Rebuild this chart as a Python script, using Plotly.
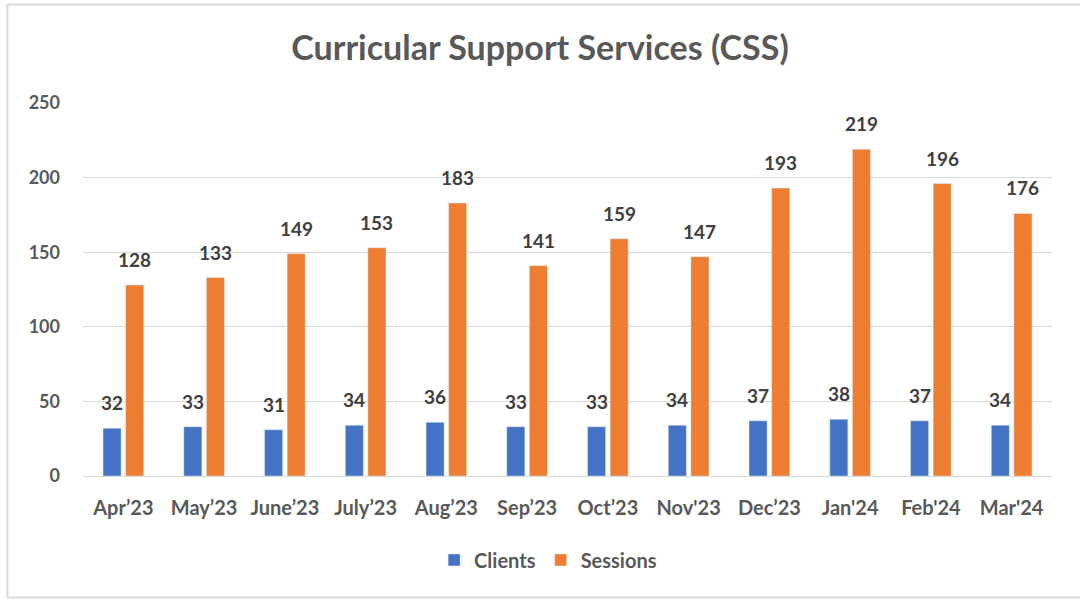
import plotly.graph_objects as go

months = ["Apr’23", "May’23", "June’23", "July’23", "Aug’23", "Sep’23",
          "Oct’23", "Nov'23", "Dec’23", "Jan'24", "Feb'24", "Mar'24"]
clients = [32, 33, 31, 34, 36, 33, 33, 34, 37, 38, 37, 34]
sessions = [128, 133, 149, 153, 183, 141, 159, 147, 193, 219, 196, 176]

font_family = "Lato, 'Open Sans', sans-serif"
label_font = dict(family=font_family, size=19, color="#404040", weight="bold")
tick_font = dict(family=font_family, size=20, color="#595959", weight="bold")

fig = go.Figure()
fig.add_trace(go.Bar(x=months, y=clients, name="Clients",
                     marker=dict(color="#4472C4")))
fig.add_trace(go.Bar(x=months, y=sessions, name="Sessions",
                     marker=dict(color="#ED7D31")))

# data labels centred over each bar of the group
annotations = []
for series, shift in [(clients, -11.25), (sessions, 11.25)]:
    for m, v in zip(months, series):
        annotations.append(dict(x=m, y=v, text=str(v), showarrow=False,
                                xshift=shift, yshift=12, yanchor="bottom",
                                font=label_font))

fig.update_layout(
    width=1080, height=599,
    barmode="group", bargap=0.44, bargroupgap=0.2,
    plot_bgcolor="white", paper_bgcolor="white",
    margin=dict(l=83, r=28, t=103, b=123),
    title=dict(text="Curricular Support Services (CSS)",
               x=0.5, xanchor="center", y=0.92, yanchor="middle",
               font=dict(family=font_family, size=34, color="#595959",
                         weight="bold")),
    xaxis=dict(showline=False, showgrid=False, ticks="",
               ticklabelstandoff=18, tickfont=tick_font),
    yaxis=dict(range=[0, 250], dtick=50, showgrid=True, gridcolor="#d9d9d9",
               gridwidth=1, zeroline=True, zerolinecolor="#d9d9d9",
               zerolinewidth=1, showline=False, ticks="",
               ticklabelstandoff=22,
               tickfont=dict(family=font_family, size=18, color="#595959",
                             weight="bold")),
    legend=dict(orientation="h", x=0.48, xanchor="center", y=-0.225,
                yanchor="middle", itemclick=False, font=tick_font),
    annotations=annotations,
    shapes=[dict(type="rect", xref="paper", yref="paper",
                 x0=-0.078, x1=1.3, y0=-0.326, y1=1.264,
                 line=dict(color="#d9d9d9", width=2))],
)

fig.write_html("out.html", config={"displayModeBar": False},
               post_script="document.body.style.margin='0';")
